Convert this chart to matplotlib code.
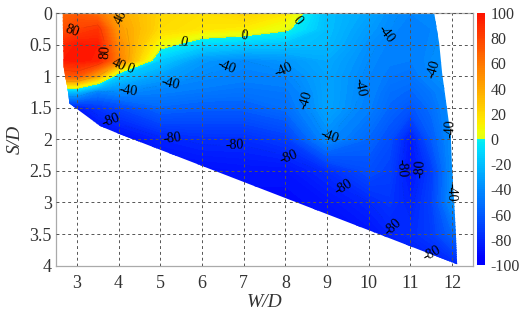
import numpy as np
import matplotlib
matplotlib.use("Agg")
import matplotlib.pyplot as plt
from matplotlib.colors import ListedColormap, Normalize
from matplotlib.cm import ScalarMappable
from matplotlib.patches import Polygon

plt.rcParams["font.family"] = "serif"
plt.rcParams["font.serif"] = ["Liberation Serif", "DejaVu Serif"]
plt.rcParams["axes.unicode_minus"] = False

# measurement grid (W/D across, S/D down)
wd = [2.5, 3, 3.5, 4, 5, 6, 7, 8, 9, 10, 10.5, 11, 11.5, 12, 12.5]
sd = [0, 0.25, 0.5, 0.75, 1.0, 1.25, 1.5, 2.0, 2.5, 3.0, 3.5, 4.0]
vals = [
    [64, 70, 62, 40, 22, 18, 24, 15, -20, -30, -38, -42, -40, -36, -36],
    [72, 80, 86, 45, 20, 15, 12, 3, -20, -34, -40, -45, -42, -36, -36],
    [88, 97, 96, 52, 6, -10, -15, -18, -22, -38, -43, -46, -41, -36, -36],
    [95, 98, 95, 58, -15, -35, -40, -36, -28, -40, -45, -46, -40, -36, -36],
    [70, 72, 40, -15, -32, -40, -44, -42, -30, -42, -48, -50, -41, -36, -36],
    [-20, -22, -45, -40, -45, -48, -50, -48, -30, -43, -52, -55, -48, -38, -36],
    [-85, -85, -75, -68, -55, -58, -58, -52, -30, -45, -55, -62, -52, -38, -36],
    [-95, -95, -95, -92, -82, -78, -78, -72, -40, -55, -65, -85, -60, -38, -36],
    [-95, -95, -95, -95, -92, -90, -88, -88, -78, -65, -70, -88, -72, -38, -36],
    [-95, -95, -95, -95, -95, -95, -92, -92, -88, -80, -75, -82, -70, -38, -36],
    [-95, -95, -95, -95, -95, -95, -95, -95, -92, -88, -82, -78, -72, -55, -50],
    [-95, -95, -95, -95, -95, -95, -95, -95, -95, -95, -92, -88, -85, -82, -80],
]

# outline of the measured region
edge_wd = [2.66, 11.57, 11.69, 11.76, 11.86, 11.97, 12.0, 12.05, 12.09, 12.12,
           4.0, 3.56, 2.82, 2.80, 2.77, 2.72, 2.68, 2.66]
edge_sd = [0.0, 0.0, 0.48, 0.95, 1.43, 1.97, 2.49, 3.0, 3.49, 3.98,
           1.91, 1.79, 1.43, 1.3, 1.17, 1.0, 0.85, 0.0]

label_levels = [-80, -40, 0, 40, 80]
label_pos = [
    (2.95, 0.38), (3.74, 0.62),
    (4.03, 0.08), (3.98, 0.8),
    (5.54, 0.4), (7.02, 0.38), (8.33, 0.15), (4.27, 0.87),
    (6.54, 0.78), (7.93, 0.98), (4.22, 1.17), (5.27, 1.17), (8.77, 1.33),
    (9.89, 1.19), (10.49, 0.38), (11.45, 0.9), (9.06, 1.97), (11.88, 1.83),
    (11.93, 2.84),
    (3.79, 1.75), (5.3, 1.9), (6.78, 2.06), (8.17, 2.17), (9.46, 2.68),
    (10.8, 2.46), (11.28, 2.46), (10.66, 3.33), (11.52, 3.79),
]

# split jet: blue->cyan below zero, yellow->red above
jet = plt.get_cmap("jet")
cols = np.vstack([jet(np.linspace(0.115, 0.36, 128)), jet(np.linspace(0.625, 0.89, 128))])
cmap = ListedColormap(cols)
norm = Normalize(-100, 100)

X, Y = np.meshgrid(wd, sd)
Z = np.array(vals, dtype=float)

fig = plt.figure(figsize=(5.22, 3.2), dpi=100)
ax = fig.add_axes([0.1073, 0.170, 0.7988, 0.789])
cax = fig.add_axes([0.914, 0.172, 0.0153, 0.787])

region = Polygon(np.column_stack([edge_wd, edge_sd]), closed=True,
                 facecolor="none", edgecolor="none", transform=ax.transData)
ax.add_patch(region)

cf = ax.contourf(X, Y, Z, levels=np.linspace(-100, 100, 101), cmap=cmap, norm=norm, zorder=1)
cf.set_clip_path(region)

cl = ax.contour(X, Y, Z, levels=label_levels, colors="k", linewidths=0.4, alpha=0.1, zorder=2)
cl.set_clip_path(region)
txts = ax.clabel(cl, label_levels, manual=label_pos, inline=True, fontsize=10, fmt="%d")
for t in txts:
    t.set_alpha(1)
    t.set_color("k")

ax.set_xlim(2.5, 12.5)
ax.set_ylim(4, 0)
ax.set_xticks(range(3, 13))
ax.set_yticks([0, 0.5, 1, 1.5, 2, 2.5, 3, 3.5, 4])
ax.set_yticklabels(["0", "0.5", "1", "1.5", "2", "2.5", "3", "3.5", "4"])
ax.set_axisbelow(False)
ax.grid(True, linestyle=(0, (3, 3)), color="#555555", linewidth=0.7)
ax.tick_params(axis="x", length=0, labelsize=13, pad=7, colors="#333333")
ax.tick_params(axis="y", length=0, labelsize=13, pad=3, colors="#333333")
for sp in ax.spines.values():
    sp.set_color("#aaaaaa")
    sp.set_linewidth(0.9)
ax.set_xlabel("W/D", fontsize=14, fontstyle="italic", color="#333333", labelpad=1)
ax.set_ylabel("S/D", fontsize=14, fontstyle="italic", color="#333333", labelpad=4)

cb = fig.colorbar(ScalarMappable(norm=norm, cmap=cmap), cax=cax, ticks=range(-100, 101, 20))
cb.outline.set_visible(False)
cax.tick_params(length=0, labelsize=11.5, pad=4, colors="#333333")

fig.savefig("out.png", dpi=100)
